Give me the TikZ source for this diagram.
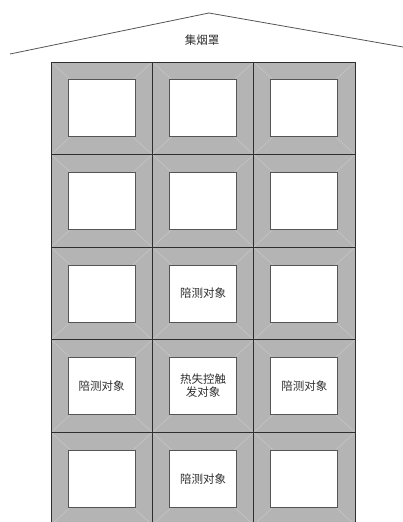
\documentclass[tikz,border=0pt]{standalone}
\usepackage{fontspec}
\newfontfamily\cjk{Noto Sans CJK SC}
\definecolor{cellgray}{HTML}{B4B4B4}
\definecolor{diaggray}{HTML}{C8C8C8}
\definecolor{linegray}{HTML}{2E2E2E}
\definecolor{boxgray}{HTML}{555555}
\definecolor{txtgray}{HTML}{303030}
\tikzset{
  cellfill/.style={fill=cellgray, draw=none},
  diagline/.style={draw=diaggray, line width=0.5pt},
  innerbox/.style={draw=boxgray, fill=white, line width=1pt, minimum width=67pt, minimum height=57pt, inner sep=0pt, outer sep=0pt, font=\cjk\fontsize{11.5}{14}\selectfont, text=txtgray, align=center},
  gridline/.style={draw=linegray, line width=0.8pt},
  rooftxt/.style={font=\cjk\fontsize{11.5}{14}\selectfont, text=txtgray}
}
\begin{document}
\begin{tikzpicture}[x=1pt,y=-1pt]
\useasboundingbox (0,0) rectangle (403,522);
\begin{scope}
\clip (0,0) rectangle (403,522);
% roof
\coordinate (rl) at (10,54);
\coordinate (rp) at (209,13);
\coordinate (rr) at (403,47);
\draw[draw=boxgray, line width=0.8pt] (rl) -- (rp) -- (rr);
\node[rooftxt] (hood) at (202,40) {集烟罩};
% cells
\foreach \r in {0,...,4}{
  \foreach \c in {0,1,2}{
    \pgfmathsetmacro{\xa}{51+101.33*\c}
    \pgfmathsetmacro{\ya}{62+92.6*\r}
    \pgfmathsetmacro{\xb}{\xa+101.33}
    \pgfmathsetmacro{\yb}{\ya+92.6}
    \pgfmathsetmacro{\xc}{\xa+50.67}
    \pgfmathsetmacro{\yc}{\ya+46.3}
    \fill[cellgray] (\xa,\ya) rectangle (\xb,\yb);
    \draw[diagline] (\xa,\ya) -- (\xb,\yb);
    \draw[diagline] (\xb,\ya) -- (\xa,\yb);
    \node[innerbox] (b\r\c) at (\xc,\yc) {};
  }
}
% labels
\node[innerbox] (t21) at (b21) {陪测对象};
\node[innerbox] (t30) at (b30) {陪测对象};
\node[innerbox] (t31) at (b31) {热失控触\\[-1pt]发对象};
\node[innerbox] (t32) at (b32) {陪测对象};
\node[innerbox] (t41) at (b41) {陪测对象};
% grid lines
\foreach \c in {0,1,2,3}{
  \pgfmathsetmacro{\xx}{51+101.33*\c}
  \draw[gridline] (\xx,62) -- (\xx,525);
}
\foreach \r in {0,...,5}{
  \pgfmathsetmacro{\yy}{62+92.6*\r}
  \draw[gridline] (51,\yy) -- (355,\yy);
}
\end{scope}
\end{tikzpicture}
\end{document}
